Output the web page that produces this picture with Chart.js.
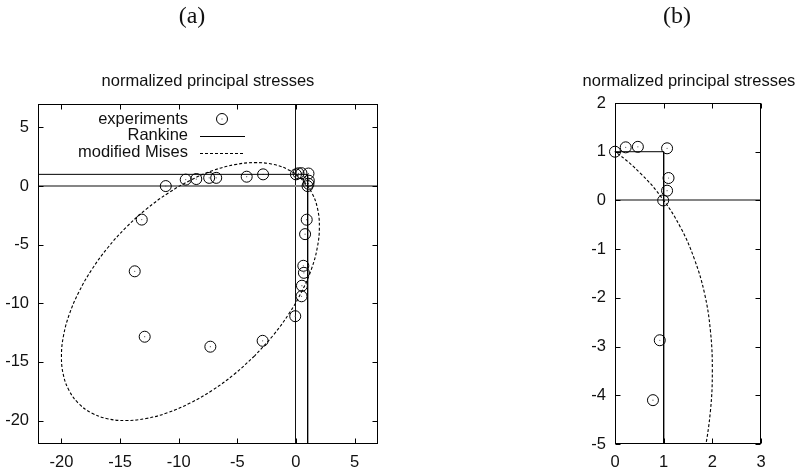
<!DOCTYPE html>
<html>
<head>
<meta charset="utf-8">
<script src="https://cdn.jsdelivr.net/npm/chart.js@4.4.1/dist/chart.umd.min.js"></script>
<style>
    body { margin: 0; background: #fff; }
    #pagina { position: relative; width: 800px; height: 476px; overflow: hidden; background: #fff; }
    canvas { position: absolute; top: 0; }
    .painel { position: absolute; width: 100px; text-align: center; font-family: "Liberation Serif", "Times New Roman", serif; font-size: 24px; line-height: 24px; color: #111; }
    .titulo { position: absolute; width: 300px; text-align: center; white-space: nowrap; font-family: "Liberation Sans", Arial, sans-serif; font-size: 16.5px; line-height: 20px; color: #111; }
</style>
</head>
<body>
<div id="pagina">
    <canvas id="graficoA" width="400" height="476" style="left:0"></canvas>
    <canvas id="graficoB" width="240" height="476" style="left:560px"></canvas>
    <div class="painel" style="left:142px; top:3px">(a)</div>
    <div class="painel" style="left:627px; top:3px">(b)</div>
    <div class="titulo" style="left:58px; top:70px">normalized principal stresses</div>
    <div class="titulo" style="left:539px; top:70px">normalized principal stresses</div>
</div>
<script>
const FONTE = '"Liberation Sans", Arial, sans-serif';

// pontos experimentais (sigma1, sigma2 normalizados)
const experimentsX = [-11.1, -9.4, -8.5, -7.4, -6.8, -4.2, -2.8, 0.0, 0.22, 0.47, 1.07, 1.1, 1.07, 0.99, 0.92, 0.78, 0.63, 0.68, 0.51, 0.48, -0.06, -2.84, -7.3, -12.9, -13.75, -13.15];
const experimentsY = [0.0, 0.55, 0.6, 0.7, 0.7, 0.8, 1.0, 1.0, 1.09, 1.1, 1.07, 0.46, 0.2, 0.0, -2.87, -4.1, -6.8, -7.4, -8.5, -9.4, -11.1, -13.2, -13.7, -12.85, -7.27, -2.86];

// criterio de Rankine
const rankineX = [-22, 1, 1];
const rankineY = [1, 1, -22];

// von Mises modificado, contorno completo (painel a)
const misesX = [-3.52, -5.26, -7.12, -9.03, -10.94, -12.79, -14.52, -16.09, -17.44, -18.54, -19.35, -19.84, -20.0, -19.83, -19.33, -18.51, -17.41, -16.05, -14.48, -12.74, -10.88, -8.97, -7.06, -5.21, -3.48, -1.91, -0.56, 0.54, 1.35, 1.84, 2.0, 1.83, 1.33, 0.51, -0.59, -1.95, -3.52];
const misesY = [-14.48, -16.05, -17.41, -18.51, -19.33, -19.83, -20.0, -19.84, -19.35, -18.54, -17.44, -16.09, -14.52, -12.79, -10.94, -9.03, -7.12, -5.26, -3.52, -1.95, -0.59, 0.51, 1.33, 1.83, 2.0, 1.84, 1.35, 0.54, -0.56, -1.91, -3.48, -5.21, -7.06, -8.97, -10.88, -12.74, -14.48];

// trecho ampliado do mesmo contorno (painel b)
const misesDetalheX = [-0.56, 0.03, 0.54, 0.98, 1.35, 1.63, 1.84, 1.96, 2.0, 1.96, 1.83, 1.62];
const misesDetalheY = [1.35, 0.98, 0.54, 0.03, -0.56, -1.2, -1.91, -2.67, -3.48, -4.33, -5.21, -6.13];

const xTicksA = [-20, -15, -10, -5, 0, 5];
const yTicksA = [-20, -15, -10, -5, 0, 5];
const xTicksB = [0, 1, 2, 3];
const yTicksB = [-5, -4, -3, -2, -1, 0, 1, 2];

const legendaRotulos = ["experiments", "Rankine", "modified Mises"];

function pares(xs, ys) {
    return xs.map((x, i) => ({ x: x, y: ys[i] }));
}

function escala(min, max, marcas, eixo, espaco, corZero, larguraZero) {
    return {
        type: "linear",
        min: min,
        max: max,
        afterBuildTicks: s => { s.ticks = marcas.map(v => ({ value: v })); },
        afterFit: s => {
            if (eixo === "x") s.height = espaco;
            else s.width = espaco;
        },
        grid: {
            drawTicks: false,
            color: c => (c.tick && c.tick.value === 0 ? corZero : "rgba(0,0,0,0)"),
            lineWidth: c => (c.tick && c.tick.value === 0 ? larguraZero : 0)
        },
        border: { display: false },
        ticks: {
            color: "#111",
            font: { family: FONTE, size: 16.5 },
            padding: 9,
            autoSkip: false,
            maxRotation: 0
        }
    };
}

const moldura = {
    id: "moldura",
    afterDatasetsDraw(chart) {
        const { ctx, chartArea: a, scales } = chart;
        const esq = Math.round(a.left) + 0.5, dir = Math.round(a.right) - 0.5;
        const topo = Math.round(a.top) + 0.5, base = Math.round(a.bottom) - 0.5;
        ctx.save();
        ctx.strokeStyle = "#000";
        ctx.lineWidth = 1;
        ctx.beginPath();
        scales.x.ticks.forEach(t => {
            const px = Math.round(scales.x.getPixelForValue(t.value)) + 0.5;
            ctx.moveTo(px, base); ctx.lineTo(px, base - 5);
            ctx.moveTo(px, topo); ctx.lineTo(px, topo + 5);
        });
        scales.y.ticks.forEach(t => {
            const py = Math.round(scales.y.getPixelForValue(t.value)) + 0.5;
            ctx.moveTo(esq, py); ctx.lineTo(esq + 5, py);
            ctx.moveTo(dir, py); ctx.lineTo(dir - 5, py);
        });
        ctx.stroke();
        ctx.strokeRect(esq, topo, dir - esq, base - topo);
        ctx.restore();
    }
};

const legenda = {
    id: "legenda",
    afterDraw(chart) {
        const { ctx, chartArea: a } = chart;
        const xTexto = a.left + 150;
        const xIni = a.left + 162, xFim = a.left + 207;
        const linhas = [a.top + 19.5, a.top + 36.3, a.top + 53.1];
        ctx.save();
        ctx.font = "16.5px " + FONTE;
        ctx.fillStyle = "#111";
        ctx.textAlign = "right";
        ctx.textBaseline = "alphabetic";
        legendaRotulos.forEach((r, i) => ctx.fillText(r, xTexto, linhas[i]));
        ctx.strokeStyle = "#000";
        ctx.lineWidth = 1;
        ctx.beginPath();
        ctx.arc(a.left + 184, linhas[0] - 4.5, 5.5, 0, Math.PI * 2);
        ctx.stroke();
        ctx.fillStyle = "#444";
        ctx.fillRect(a.left + 183.5, linhas[0] - 5, 1, 1);
        ctx.beginPath();
        ctx.moveTo(xIni, Math.round(linhas[1] - 4) + 0.5);
        ctx.lineTo(xFim, Math.round(linhas[1] - 4) + 0.5);
        ctx.stroke();
        ctx.setLineDash([3, 2]);
        ctx.beginPath();
        ctx.moveTo(xIni, Math.round(linhas[2] - 4) + 0.5);
        ctx.lineTo(xFim, Math.round(linhas[2] - 4) + 0.5);
        ctx.stroke();
        ctx.restore();
    }
};

function conjuntos(curvaX, curvaY) {
    return [
        {
            label: legendaRotulos[2],
            data: pares(curvaX, curvaY),
            showLine: true,
            borderColor: "#000",
            borderWidth: 1.1,
            borderDash: [3, 2],
            pointRadius: 0,
            tension: 0.4
        },
        {
            label: legendaRotulos[1],
            data: pares(rankineX, rankineY),
            showLine: true,
            borderColor: "#000",
            borderWidth: 1,
            pointRadius: 0
        },
        {
            label: legendaRotulos[0],
            data: pares(experimentsX, experimentsY),
            showLine: false,
            pointStyle: "circle",
            pointRadius: 5.5,
            borderColor: "#000",
            borderWidth: 1,
            backgroundColor: "rgba(0,0,0,0)",
            clip: 8
        },
        {
            label: "",
            data: pares(experimentsX, experimentsY),
            showLine: false,
            pointStyle: "circle",
            pointRadius: 0.6,
            borderWidth: 0,
            backgroundColor: "#555",
            clip: 8
        }
    ];
}

function opcoes(escalaX, escalaY, padding) {
    return {
        responsive: false,
        animation: false,
        devicePixelRatio: 1,
        events: [],
        layout: { padding: padding },
        elements: { line: { capBezierPoints: false } },
        plugins: { legend: { display: false }, tooltip: { enabled: false }, title: { display: false } },
        scales: { x: escalaX, y: escalaY }
    };
}

new Chart(document.getElementById("graficoA"), {
    type: "scatter",
    data: { datasets: conjuntos(misesX, misesY) },
    options: opcoes(
        escala(-22, 7, xTicksA, "x", 32, "#111", 1),
        escala(-22, 7, yTicksA, "y", 38, "#858585", 2),
        { top: 104, right: 22, bottom: 0, left: 0 }
    ),
    plugins: [moldura, legenda]
});

new Chart(document.getElementById("graficoB"), {
    type: "scatter",
    data: { datasets: conjuntos(misesDetalheX, misesDetalheY) },
    options: opcoes(
        escala(0, 3, xTicksB, "x", 32, "#111", 1),
        escala(-5, 2, yTicksB, "y", 55, "#858585", 2),
        { top: 103, right: 39, bottom: 0, left: 0 }
    ),
    plugins: [moldura]
});
</script>
</body>
</html>
